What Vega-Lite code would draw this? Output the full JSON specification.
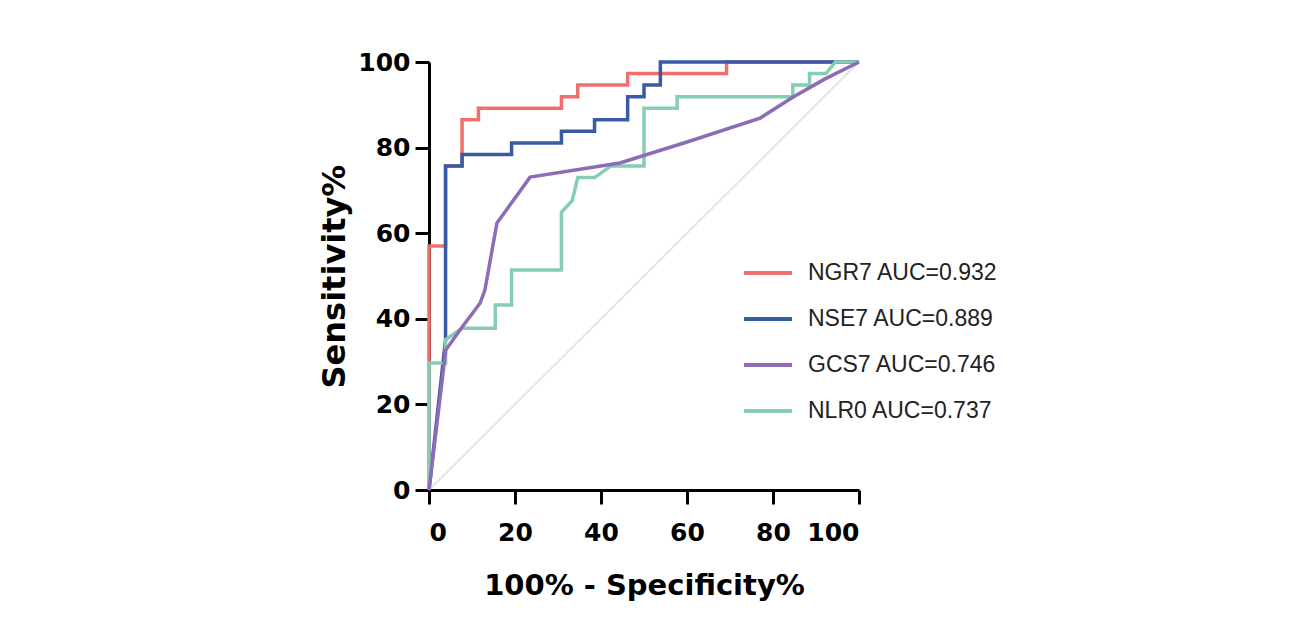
{
  "$schema": "https://vega.github.io/schema/vega-lite/v6.json",
  "width": 430,
  "height": 428,
  "autosize": {"type": "none"},
  "padding": {"left": 429, "top": 62, "right": 435, "bottom": 144},
  "background": "white",
  "config": {
    "view": {"stroke": null},
    "axis": {
      "grid": false,
      "domainColor": "black",
      "domainWidth": 3,
      "tickColor": "black",
      "tickWidth": 3,
      "tickSize": 14,
      "labelFont": "DejaVu Sans",
      "labelFontWeight": "bold",
      "labelFontSize": 25,
      "labelColor": "black",
      "titleFont": "DejaVu Sans",
      "titleFontWeight": "bold",
      "titleFontSize": 29,
      "titleColor": "black"
    },
    "legend": {
      "labelFont": "Liberation Sans",
      "labelFontSize": 23,
      "labelColor": "#222222",
      "labelLimit": 400,
      "symbolType": "stroke",
      "symbolStrokeWidth": 4,
      "symbolSize": 2300
    }
  },
  "datasets": {
    "roc": [
      {"s": "NGR7 AUC=0.932", "i": 0, "x": 0, "y": 0},
      {"s": "NGR7 AUC=0.932", "i": 1, "x": 0, "y": 57},
      {"s": "NGR7 AUC=0.932", "i": 2, "x": 3.85, "y": 57},
      {"s": "NGR7 AUC=0.932", "i": 3, "x": 3.85, "y": 75.7},
      {"s": "NGR7 AUC=0.932", "i": 4, "x": 7.69, "y": 75.7},
      {"s": "NGR7 AUC=0.932", "i": 5, "x": 7.69, "y": 86.5},
      {"s": "NGR7 AUC=0.932", "i": 6, "x": 11.5, "y": 86.5},
      {"s": "NGR7 AUC=0.932", "i": 7, "x": 11.5, "y": 89.2},
      {"s": "NGR7 AUC=0.932", "i": 8, "x": 30.8, "y": 89.2},
      {"s": "NGR7 AUC=0.932", "i": 9, "x": 30.8, "y": 91.9},
      {"s": "NGR7 AUC=0.932", "i": 10, "x": 34.6, "y": 91.9},
      {"s": "NGR7 AUC=0.932", "i": 11, "x": 34.6, "y": 94.6},
      {"s": "NGR7 AUC=0.932", "i": 12, "x": 46.2, "y": 94.6},
      {"s": "NGR7 AUC=0.932", "i": 13, "x": 46.2, "y": 97.3},
      {"s": "NGR7 AUC=0.932", "i": 14, "x": 69.2, "y": 97.3},
      {"s": "NGR7 AUC=0.932", "i": 15, "x": 69.2, "y": 100},
      {"s": "NGR7 AUC=0.932", "i": 16, "x": 100, "y": 100},

      {"s": "NSE7 AUC=0.889", "i": 0, "x": 0, "y": 0},
      {"s": "NSE7 AUC=0.889", "i": 1, "x": 3.85, "y": 35.1},
      {"s": "NSE7 AUC=0.889", "i": 2, "x": 3.85, "y": 75.7},
      {"s": "NSE7 AUC=0.889", "i": 3, "x": 7.69, "y": 75.7},
      {"s": "NSE7 AUC=0.889", "i": 4, "x": 7.69, "y": 78.4},
      {"s": "NSE7 AUC=0.889", "i": 5, "x": 19.2, "y": 78.4},
      {"s": "NSE7 AUC=0.889", "i": 6, "x": 19.2, "y": 81.1},
      {"s": "NSE7 AUC=0.889", "i": 7, "x": 30.8, "y": 81.1},
      {"s": "NSE7 AUC=0.889", "i": 8, "x": 30.8, "y": 83.8},
      {"s": "NSE7 AUC=0.889", "i": 9, "x": 38.5, "y": 83.8},
      {"s": "NSE7 AUC=0.889", "i": 10, "x": 38.5, "y": 86.5},
      {"s": "NSE7 AUC=0.889", "i": 11, "x": 46.2, "y": 86.5},
      {"s": "NSE7 AUC=0.889", "i": 12, "x": 46.2, "y": 91.9},
      {"s": "NSE7 AUC=0.889", "i": 13, "x": 50, "y": 91.9},
      {"s": "NSE7 AUC=0.889", "i": 14, "x": 50, "y": 94.6},
      {"s": "NSE7 AUC=0.889", "i": 15, "x": 53.8, "y": 94.6},
      {"s": "NSE7 AUC=0.889", "i": 16, "x": 53.8, "y": 100},
      {"s": "NSE7 AUC=0.889", "i": 17, "x": 100, "y": 100},

      {"s": "NLR0 AUC=0.737", "i": 0, "x": 0, "y": 0},
      {"s": "NLR0 AUC=0.737", "i": 1, "x": 0, "y": 29.7},
      {"s": "NLR0 AUC=0.737", "i": 2, "x": 3.85, "y": 29.7},
      {"s": "NLR0 AUC=0.737", "i": 3, "x": 3.85, "y": 35.1},
      {"s": "NLR0 AUC=0.737", "i": 4, "x": 7.69, "y": 37.8},
      {"s": "NLR0 AUC=0.737", "i": 5, "x": 15.4, "y": 37.8},
      {"s": "NLR0 AUC=0.737", "i": 6, "x": 15.4, "y": 43.2},
      {"s": "NLR0 AUC=0.737", "i": 7, "x": 19.2, "y": 43.2},
      {"s": "NLR0 AUC=0.737", "i": 8, "x": 19.2, "y": 51.4},
      {"s": "NLR0 AUC=0.737", "i": 9, "x": 30.8, "y": 51.4},
      {"s": "NLR0 AUC=0.737", "i": 10, "x": 30.8, "y": 64.9},
      {"s": "NLR0 AUC=0.737", "i": 11, "x": 33.3, "y": 67.6},
      {"s": "NLR0 AUC=0.737", "i": 12, "x": 34.6, "y": 73},
      {"s": "NLR0 AUC=0.737", "i": 13, "x": 38.5, "y": 73},
      {"s": "NLR0 AUC=0.737", "i": 14, "x": 42.3, "y": 75.7},
      {"s": "NLR0 AUC=0.737", "i": 15, "x": 50, "y": 75.7},
      {"s": "NLR0 AUC=0.737", "i": 16, "x": 50, "y": 89.2},
      {"s": "NLR0 AUC=0.737", "i": 17, "x": 57.7, "y": 89.2},
      {"s": "NLR0 AUC=0.737", "i": 18, "x": 57.7, "y": 91.9},
      {"s": "NLR0 AUC=0.737", "i": 19, "x": 84.6, "y": 91.9},
      {"s": "NLR0 AUC=0.737", "i": 20, "x": 84.6, "y": 94.6},
      {"s": "NLR0 AUC=0.737", "i": 21, "x": 88.5, "y": 94.6},
      {"s": "NLR0 AUC=0.737", "i": 22, "x": 88.5, "y": 97.3},
      {"s": "NLR0 AUC=0.737", "i": 23, "x": 92.3, "y": 97.3},
      {"s": "NLR0 AUC=0.737", "i": 24, "x": 94.5, "y": 100},
      {"s": "NLR0 AUC=0.737", "i": 25, "x": 100, "y": 100},

      {"s": "GCS7 AUC=0.746", "i": 0, "x": 0, "y": 0},
      {"s": "GCS7 AUC=0.746", "i": 1, "x": 3.9, "y": 32.7},
      {"s": "GCS7 AUC=0.746", "i": 2, "x": 7.2, "y": 37.4},
      {"s": "GCS7 AUC=0.746", "i": 3, "x": 11.9, "y": 43.7},
      {"s": "GCS7 AUC=0.746", "i": 4, "x": 13, "y": 46.7},
      {"s": "GCS7 AUC=0.746", "i": 5, "x": 15.8, "y": 62.4},
      {"s": "GCS7 AUC=0.746", "i": 6, "x": 17.7, "y": 65},
      {"s": "GCS7 AUC=0.746", "i": 7, "x": 23.5, "y": 73.1},
      {"s": "GCS7 AUC=0.746", "i": 8, "x": 44.4, "y": 76.4},
      {"s": "GCS7 AUC=0.746", "i": 9, "x": 60, "y": 81.3},
      {"s": "GCS7 AUC=0.746", "i": 10, "x": 77, "y": 86.9},
      {"s": "GCS7 AUC=0.746", "i": 11, "x": 84.7, "y": 91.8},
      {"s": "GCS7 AUC=0.746", "i": 12, "x": 92, "y": 96},
      {"s": "GCS7 AUC=0.746", "i": 13, "x": 100, "y": 100}
    ],
    "ref": [
      {"x": 0, "y": 0},
      {"x": 100, "y": 100}
    ]
  },
  "layer": [
    {
      "data": {"name": "ref"},
      "mark": {"type": "line", "color": "#e4e4e4", "strokeWidth": 2},
      "encoding": {
        "x": {"field": "x", "type": "quantitative", "scale": {"domain": [0, 100], "nice": false}},
        "y": {"field": "y", "type": "quantitative", "scale": {"domain": [0, 100], "nice": false}}
      }
    },
    {
      "data": {"name": "roc"},
      "mark": {"type": "line", "strokeWidth": 3.5, "clip": false},
      "encoding": {
        "x": {
          "field": "x", "type": "quantitative",
          "scale": {"domain": [0, 100], "nice": false},
          "axis": {"values": [0, 20, 40, 60, 80, 100], "title": "100% - Specificity%", "labelPadding": 16, "titlePadding": 26}
        },
        "y": {
          "field": "y", "type": "quantitative",
          "scale": {"domain": [0, 100], "nice": false},
          "axis": {"values": [0, 20, 40, 60, 80, 100], "title": "Sensitivity%", "labelPadding": 5, "titlePadding": 6, "titleFontSize": 32}
        },
        "order": {"field": "i", "type": "quantitative"},
        "color": {
          "field": "s", "type": "nominal",
          "scale": {
            "domain": ["NGR7 AUC=0.932", "NSE7 AUC=0.889", "GCS7 AUC=0.746", "NLR0 AUC=0.737"],
            "range": ["#ef6f6c", "#3a5aa6", "#8d6bb7", "#86cdb2"]
          },
          "legend": {
            "title": null,
            "orient": "none",
            "legendX": 313,
            "legendY": 185,
            "rowPadding": 8,
            "labelOffset": 14
          }
        }
      }
    }
  ]
}
